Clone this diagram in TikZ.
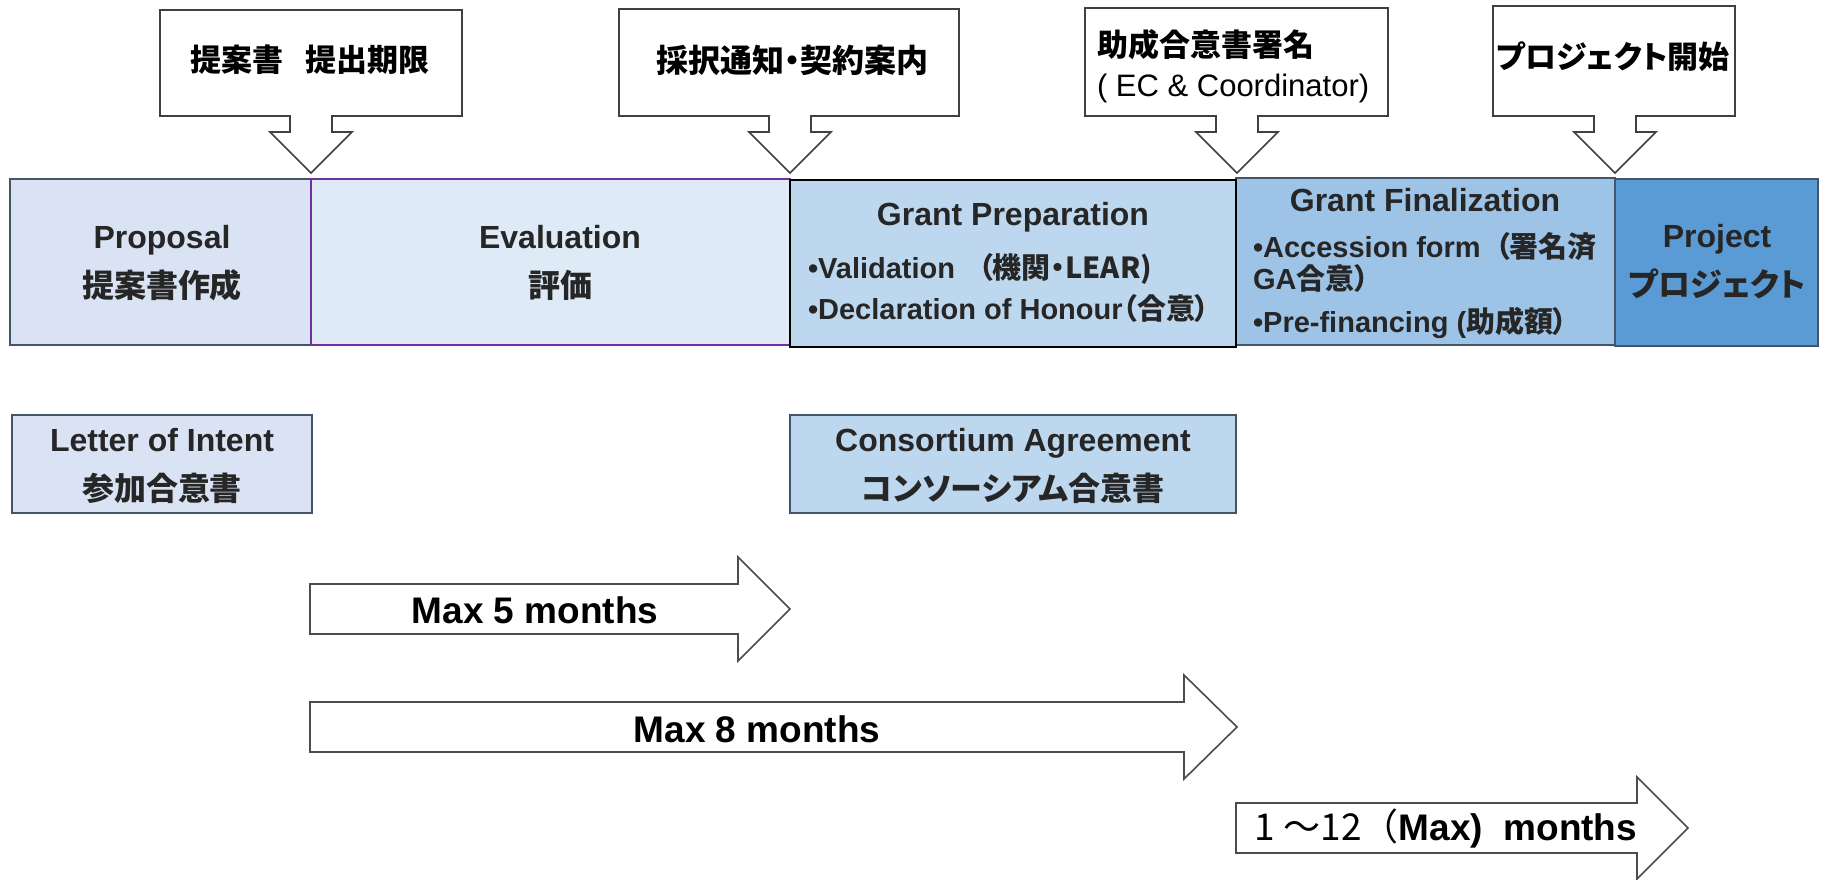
\documentclass[tikz,border=0pt]{standalone}
\usepackage{fontspec}
\setmainfont{Liberation Sans}
\newfontfamily\jp[RawFeature=+palt]{Noto Sans CJK JP}
\newfontfamily\jpw{Noto Sans CJK JP}
\usepackage{tikz}
\usetikzlibrary{arrows}

\begin{document}
\begin{tikzpicture}[x={(0.5pt,0pt)}, y={(0pt,-0.5pt)},
    inner sep=0pt, outer sep=0pt,%
    phase/.style={draw=#1, line width=0.9pt},
    callout/.style={draw=black!75, line width=0.8pt, fill=white, line join=miter},
    span/.style={draw=black!70, line width=0.8pt, fill=white, line join=miter},
    title/.style={font=\fontsize{16}{24.5}\selectfont\bfseries, text=txt, align=center},
    item/.style={font=\fontsize{14.5}{20.5}\selectfont\bfseries, text=txt, align=left, anchor=west},
    note/.style={font=\fontsize{15.5}{20}\selectfont\bfseries, align=center},
    months/.style={font=\fontsize{18.5}{22}\selectfont\bfseries},
]
    % Colors
    \definecolor{txt}{HTML}{262626}
    \definecolor{edge}{HTML}{44546A}
    \definecolor{propfill}{HTML}{DAE3F3}
    \definecolor{evalfill}{HTML}{DEEBF7}
    \definecolor{evaledge}{HTML}{7030A0}
    \definecolor{prepfill}{HTML}{BDD7EE}
    \definecolor{finfill}{HTML}{9DC3E6}
    \definecolor{projfill}{HTML}{5B9BD5}

    \useasboundingbox (0,0) rectangle (1826,879);

    % Phases
    \draw[phase=edge, fill=propfill] (10,179) rectangle (311,345);
    \draw[phase=evaledge, fill=evalfill] (311,179) rectangle (790,345);
    \draw[phase=edge, fill=finfill] (1236,178) rectangle (1615,345);
    \draw[phase=edge, fill=projfill] (1615,179) rectangle (1818,346);
    \draw[phase=black, line width=1.2pt, fill=prepfill] (790,180) rectangle (1236,347);

    \node[title] (proposal) at (162,263) {Proposal\\{\jp 提案書作成}};
    \node[title] (evaluation) at (560,263) {Evaluation\\{\jp 評価}};
    \node[title] (prep) at (1013,217) {Grant Preparation};
    \node[item] (prepitems) at (808,288)
        {•Validation\hspace{0.8em}{\jp （機関・LEAR)}\\[0pt]•Declaration of Honour{\jp（合意）}};
    \node[title] (final) at (1425,200) {Grant Finalization};
    \node[item, font=\fontsize{14.5}{16}\selectfont\bfseries] (finalitems) at (1253,286)
        {•Accession form\hspace{0.5em}{\jp （署名済}\\GA{\jp 合意）}\\[5.5pt]•Pre-financing ({\jp 助成額）}};
    \node[title] (project) at (1717,262) {Project\\{\jp プロジェクト}};

    % Documents
    \draw[phase=edge, fill=propfill] (12,415) rectangle (312,513);
    \draw[phase=edge, fill=prepfill] (790,415) rectangle (1236,513);
    \node[title] (intent) at (162,466) {Letter of Intent\\{\jp 参加合意書}};
    \node[title] (consortium) at (1013,466) {Consortium Agreement\\{\jp コンソーシアム合意書}};

    % Milestones
    \draw[callout] (160,10) -- (462,10) -- (462,116) -- (332,116) -- (332,132) -- (352,132)
        -- (311,173) -- (270,132) -- (290,132) -- (290,116) -- (160,116) -- cycle;
    \draw[callout] (619,9) -- (959,9) -- (959,116) -- (811,116) -- (811,132) -- (831,132)
        -- (790,173) -- (749,132) -- (769,132) -- (769,116) -- (619,116) -- cycle;
    \draw[callout] (1085,8) -- (1388,8) -- (1388,116) -- (1258,116) -- (1258,132) -- (1278,132)
        -- (1237,173) -- (1196,132) -- (1216,132) -- (1216,116) -- (1085,116) -- cycle;
    \draw[callout] (1493,6) -- (1735,6) -- (1735,116) -- (1636,116) -- (1636,132) -- (1656,132)
        -- (1615,173) -- (1574,132) -- (1594,132) -- (1594,116) -- (1493,116) -- cycle;

    \node[note] (deadline) at (310,60) {\jp 提案書\hspace{0.7em}提出期限};
    \node[note, font=\fontsize{16}{20}\selectfont\bfseries] (notice) at (792,60) {\jp 採択通知・契約案内};
    \node[note, align=left, anchor=west] (signing) at (1097,66)
        {{\jp 助成合意書署名}\\{\mdseries ( EC \& Coordinator)}};
    \node[note] (start) at (1613,57) {\jp プロジェクト開始};

    % Durations
    \draw[span] (310,584) -- (738,584) -- (738,557) -- (790,609) -- (738,661) -- (738,634) -- (310,634) -- cycle;
    \draw[span] (310,702) -- (1184,702) -- (1184,675) -- (1237,727) -- (1184,779) -- (1184,752) -- (310,752) -- cycle;
    \draw[span] (1236,803) -- (1637,803) -- (1637,777) -- (1688,828) -- (1637,879) -- (1637,853) -- (1236,853) -- cycle;

    \node[months] (five) at (535,610) {Max 5 months};
    \node[months] (eight) at (757,729) {Max 8 months};
    \node[months] (twelve) at (1446,828) {{\jpw\mdseries 1 ～12（}Max)\ \ months};
\end{tikzpicture}
\end{document}
